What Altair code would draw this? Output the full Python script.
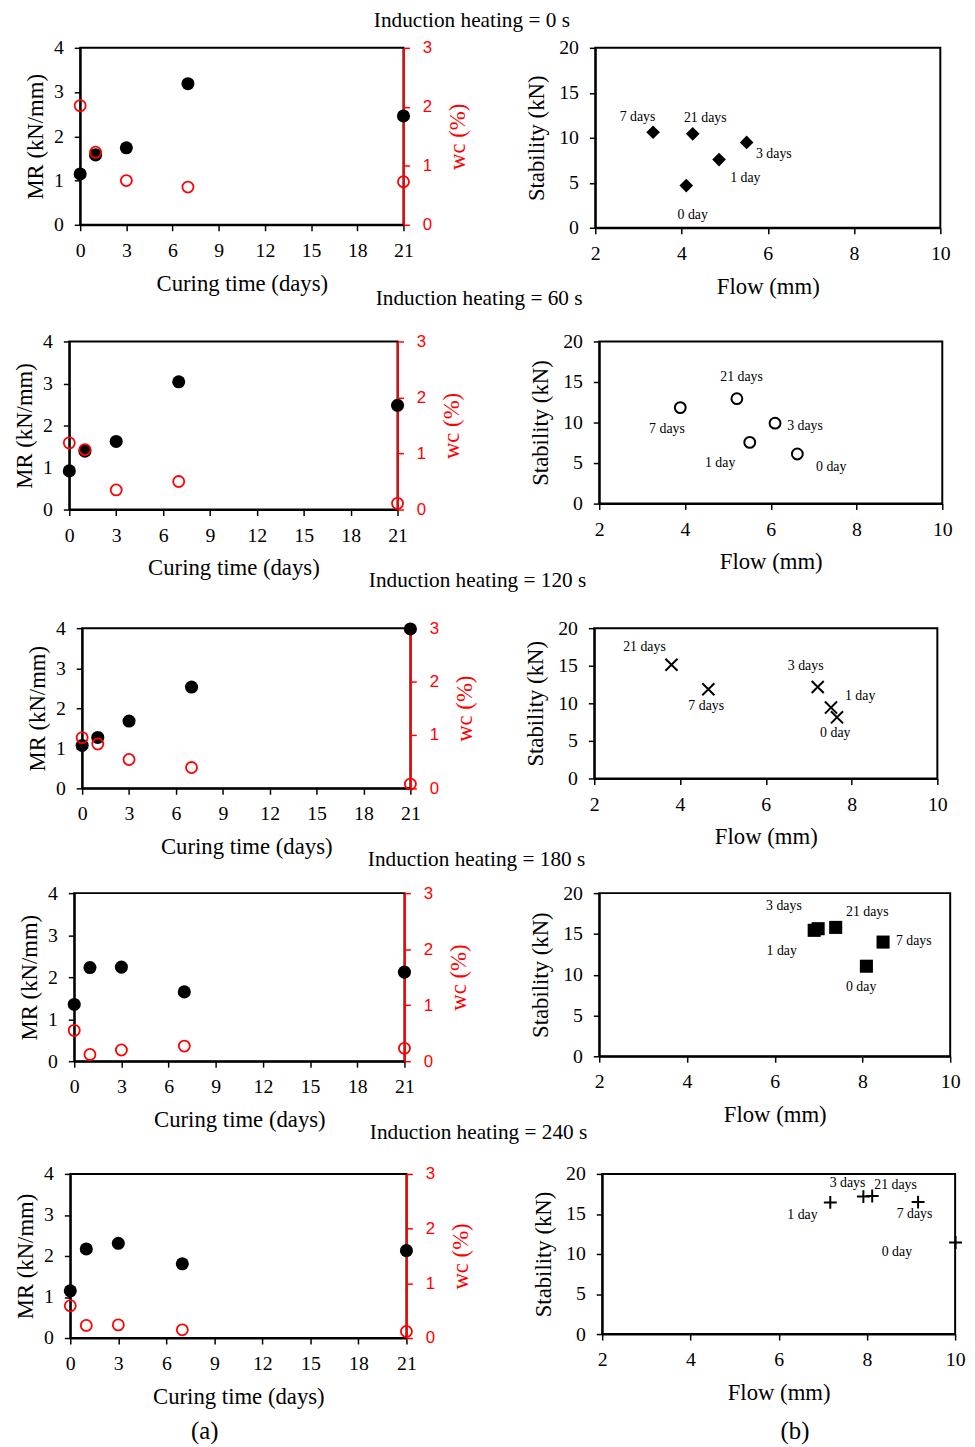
import altair as alt
import pandas as pd

# ---------------- data ----------------
days = [0, 1, 3, 7, 21]
day_labels = ["0 day", "1 day", "3 days", "7 days", "21 days"]
row_titles = [
    "Induction heating = 0 s",
    "Induction heating = 60 s",
    "Induction heating = 120 s",
    "Induction heating = 180 s",
    "Induction heating = 240 s",
]

mr_0 = [1.15, 1.58, 1.74, 3.19, 2.46]
wc_0 = [2.02, 1.23, 0.75, 0.64, 0.73]
mr_60 = [0.92, 1.39, 1.62, 3.04, 2.48]
wc_60 = [1.19, 1.07, 0.35, 0.50, 0.11]
mr_120 = [1.07, 1.27, 1.68, 2.53, 3.98]
wc_120 = [0.95, 0.83, 0.54, 0.39, 0.08]
mr_180 = [1.35, 2.23, 2.24, 1.65, 2.12]
wc_180 = [0.55, 0.12, 0.20, 0.27, 0.23]
mr_240 = [1.15, 2.17, 2.31, 1.81, 2.13]
wc_240 = [0.59, 0.23, 0.24, 0.15, 0.12]

# Marshall results, order: 0 day, 1 day, 3 days, 7 days, 21 days
flow_0 = [4.11, 4.87, 5.51, 3.34, 4.26]
stab_0 = [4.69, 7.58, 9.49, 10.62, 10.44]
flow_60 = [6.62, 5.51, 6.10, 3.89, 5.21]
stab_60 = [6.12, 7.55, 9.92, 11.84, 12.94]
flow_120 = [7.66, 7.52, 7.21, 4.66, 3.80]
stab_120 = [8.13, 9.43, 12.17, 11.87, 15.13]
flow_180 = [8.09, 6.90, 6.99, 8.47, 7.39]
stab_180 = [11.04, 15.44, 15.64, 14.00, 15.80]
flow_240 = [10.01, 7.17, 7.92, 9.16, 8.12]
stab_240 = [11.43, 16.44, 17.17, 16.48, 17.25]

# where the day annotations sit (data units)
lab_flow_0 = [4.26, 5.48, 6.14, 2.98, 4.55]
lab_stab_0 = [1.39, 5.53, 8.20, 12.30, 12.23]
lab_flow_60 = [7.41, 4.82, 6.80, 3.58, 5.32]
lab_stab_60 = [4.49, 5.00, 9.59, 9.18, 15.60]
lab_flow_120 = [7.62, 8.20, 6.93, 4.61, 3.17]
lab_stab_120 = [6.09, 11.00, 15.00, 9.65, 17.50]
lab_flow_180 = [7.97, 6.16, 6.21, 9.17, 8.11]
lab_stab_180 = [8.52, 12.92, 18.40, 14.08, 17.68]
lab_flow_240 = [8.68, 6.54, 7.56, 9.08, 8.65]
lab_stab_240 = [10.26, 14.83, 18.87, 14.95, 18.59]

x_ticks_days = [0, 3, 6, 9, 12, 15, 18, 21]
mr_ticks = [0, 1, 2, 3, 4]
wc_ticks = [0, 1, 2, 3]
flow_ticks = [2, 4, 6, 8, 10]
stab_ticks = [0, 5, 10, 15, 20]

# ---------------- style ----------------
SERIF = "Liberation Serif"
SANS = "Liberation Sans"
RED = "#ff0000"
X_PATH = "M-1,-1L1,1M-1,1L1,-1"
PLUS_PATH = "M-1,0L1,0M0,-1L0,1"

marker_styles = [
    dict(shape="diamond", filled=True, size=190, strokeWidth=0),
    dict(shape="circle", filled=False, size=120, strokeWidth=2),
    dict(shape=X_PATH, filled=False, size=150, strokeWidth=2),
    dict(shape="square", filled=True, size=175, strokeWidth=0),
    dict(shape=PLUS_PATH, filled=False, size=170, strokeWidth=2),
]

# layout per row
layout = [
    dict(lx=80, lw=327, lh=179, rx=598, rw=349, rh=182, tdx=370, toff=6),
    dict(lx=68, lw=332, lh=170, rx=601, rw=347, rh=164, tdx=372, toff=21),
    dict(lx=81, lw=332, lh=162, rx=596, rw=347, rh=152, tdx=365, toff=26),
    dict(lx=73, lw=334, lh=170, rx=601, rw=355, rh=165, tdx=364, toff=12),
    dict(lx=69, lw=340, lh=166, rx=604, rw=357, rh=162, tdx=366, toff=20),
]
EXTL = 56  # left extent of the left panel's axis block
GAP_FIX = 3

mr_all = [mr_0, mr_60, mr_120, mr_180, mr_240]
wc_all = [wc_0, wc_60, wc_120, wc_180, wc_240]
flow_all = [flow_0, flow_60, flow_120, flow_180, flow_240]
stab_all = [stab_0, stab_60, stab_120, stab_180, stab_240]
lflow_all = [lab_flow_0, lab_flow_60, lab_flow_120, lab_flow_180, lab_flow_240]
lstab_all = [lab_stab_0, lab_stab_60, lab_stab_120, lab_stab_180, lab_stab_240]


def left_panel(mr_vals, wc_vals, w, h, extra=None):
    df = pd.DataFrame({"day": days, "mr": mr_vals, "wc": wc_vals})
    x = alt.X(
        "day:Q",
        scale=alt.Scale(domain=[0, 21], nice=False, zero=False),
        axis=alt.Axis(values=x_ticks_days, title="Curing time (days)", labelFlush=False,
                      labelOverlap=False, labelPadding=10, titlePadding=12),
    )
    mr_layer = alt.Chart(df).mark_point(
        shape="circle", filled=True, color="black", size=175, opacity=1
    ).encode(
        x=x,
        y=alt.Y("mr:Q", scale=alt.Scale(domain=[0, 4], nice=False),
                axis=alt.Axis(values=mr_ticks, orient="left", title="MR (kN/mm)",
                              labelOverlap=False, labelPadding=11, titlePadding=6)),
    )
    wc_layer = alt.Chart(df).mark_point(
        shape="circle", filled=False, color=RED, size=125, strokeWidth=1.8, opacity=1
    ).encode(
        x=x,
        y=alt.Y("wc:Q", scale=alt.Scale(domain=[0, 3], nice=False),
                axis=alt.Axis(values=wc_ticks, orient="right", title="wc (%)",
                              domainColor=RED, tickColor=RED, labelColor=RED, titleColor=RED,
                              labelFont=SANS, labelFontSize=17, labelPadding=13,
                              labelOverlap=False,
                              titleAngle=270, titleBaseline="top", titlePadding=15)),
    )
    layers = [mr_layer, wc_layer]
    if extra is not None:
        layers.append(extra)
    return alt.layer(*layers).resolve_scale(y="independent").properties(width=w, height=h)


def right_panel(flow, stab, lflow, lstab, style, w, h, extra=None):
    df = pd.DataFrame({"flow": flow, "stab": stab})
    ldf = pd.DataFrame({"flow": lflow, "stab": lstab, "label": day_labels})
    x = alt.X("flow:Q", scale=alt.Scale(domain=[2, 10], nice=False, zero=False),
              axis=alt.Axis(values=flow_ticks, title="Flow (mm)", labelFlush=False,
                            labelOverlap=False, labelPadding=10, titlePadding=12))
    y = alt.Y("stab:Q", scale=alt.Scale(domain=[0, 20], nice=False),
              axis=alt.Axis(values=stab_ticks, title="Stability (kN)", labelPadding=11,
                            labelOverlap=False, titlePadding=10))
    pts = alt.Chart(df).mark_point(color="black", opacity=1, **style).encode(x=x, y=y)
    txt = alt.Chart(ldf).mark_text(font=SERIF, fontSize=14, color="black").encode(
        x=x, y=y, text="label:N")
    layers = [pts, txt]
    if extra is not None:
        layers.append(extra)
    return alt.layer(*layers).properties(width=w, height=h)


def spacer(w):
    return alt.Chart(pd.DataFrame({"v": [0]})).mark_rect(color="white", opacity=1).encode(
        x=alt.value(0), x2=alt.value(w), y=alt.value(0), y2=alt.value(1)
    ).properties(width=w, height=1,
                 view=alt.ViewBackground(stroke="transparent", strokeWidth=0))


rows = []
for i in range(5):
    L = layout[i]
    extra_l = extra_r = None
    if i == 4:
        tdf = pd.DataFrame({"t": ["(a)"]})
        extra_l = alt.Chart(tdf).mark_text(font=SERIF, fontSize=25, color="black").encode(
            text="t:N", x=alt.value(205 - L["lx"]), y=alt.value(260))
        tdf2 = pd.DataFrame({"t": ["(b)"]})
        extra_r = alt.Chart(tdf2).mark_text(font=SERIF, fontSize=25, color="black").encode(
            text="t:N", x=alt.value(799 - L["rx"]), y=alt.value(260))
    lp = left_panel(mr_all[i], wc_all[i], L["lw"], L["lh"], extra_l)
    rp = right_panel(flow_all[i], stab_all[i], lflow_all[i], lstab_all[i],
                     marker_styles[i], L["rw"], L["rh"], extra_r)
    inner = alt.hconcat(lp, rp, spacing=L["rx"] - (L["lx"] + L["lw"]) + GAP_FIX,
                        bounds="flush")
    row = alt.hconcat(
        spacer(max(L["lx"] - 8 - EXTL, 0)), inner, spacing=0,
        title=alt.TitleParams(row_titles[i], anchor="start", dx=L["tdx"], offset=L["toff"],
                              font=SERIF, fontSize=21.5, fontWeight="normal", color="black"),
    )
    rows.append(row)

chart = alt.vconcat(*rows, spacing=-11).properties(
    padding={"top": -7, "left": 0, "right": 0, "bottom": 0}
).configure_view(
    stroke="black", strokeWidth=2
).configure_axis(
    grid=False, domainColor="black", domainWidth=2, tickColor="black", tickWidth=1.5,
    tickSize=6, labelFont=SERIF, labelFontSize=20, labelColor="black",
    titleFont=SERIF, titleFontSize=23, titleFontWeight="normal", titleColor="black",
).configure_concat(spacing=0)

chart.save("out.html", embed_options={"renderer": "svg", "actions": False})
